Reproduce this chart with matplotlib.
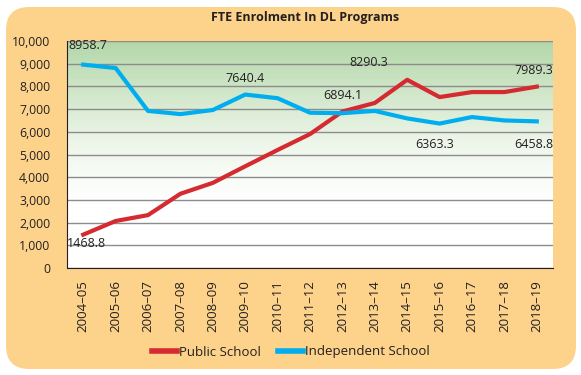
import matplotlib
matplotlib.use('Agg')
import matplotlib.pyplot as plt
import numpy as np
from matplotlib.patches import FancyBboxPatch
from matplotlib.colors import LinearSegmentedColormap

years = ['2004\u201305', '2005\u201306', '2006\u201307', '2007\u201308', '2008\u201309',
         '2009\u201310', '2010\u201311', '2011\u201312', '2012\u201313', '2013\u201314',
         '2014\u201315', '2015\u201316', '2016\u201317', '2017\u201318', '2018\u201319']
public_school = [1468.8, 2070, 2330, 3270, 3750, 4480, 5200, 5900, 6894.1, 7270,
                 8290.3, 7530, 7750, 7750, 7989.3]
independent_school = [8958.7, 8810, 6920, 6780, 6960, 7640.4, 7480, 6840, 6820, 6920,
                      6590, 6363.3, 6650, 6500, 6458.8]
y_ticks = [0, 1000, 2000, 3000, 4000, 5000, 6000, 7000, 8000, 9000, 10000]

RED = '#d42a30'
BLUE = '#00aeef'
BG = '#fdd38c'

plt.rcParams['font.family'] = ['Open Sans', 'DejaVu Sans']
fig = plt.figure(figsize=(5.81, 3.75), dpi=100)
fig.patch.set_facecolor('white')
box = FancyBboxPatch((6 / 581, 6 / 375), 570 / 581, 362 / 375,
                     boxstyle='round,pad=0,rounding_size=0.04',
                     transform=fig.transFigure, facecolor=BG, edgecolor='none',
                     mutation_aspect=581 / 375, zorder=-5)
fig.patches.append(box)

ax = fig.add_axes([67 / 581, 1 - 268 / 375, 486 / 581, 227 / 375])
ax.set_zorder(2)
x = np.arange(len(years))

# green-to-white gradient background
grad = np.linspace(0, 1, 256).reshape(-1, 1)
cmap = LinearSegmentedColormap.from_list('g', [(0, 'white'), (0.3, 'white'),
                                               (0.55, '#eef6ea'), (1, '#b3d7a9')])
ax.imshow(grad, aspect='auto', cmap=cmap, origin='lower',
          extent=[-0.5, 14.5, 0, 10000], zorder=0)

ax.set_xlim(-0.5, 14.5)
ax.set_ylim(0, 10000)
ax.set_yticks(y_ticks)
ax.set_yticklabels([f'{v:,}' for v in y_ticks], fontsize=8.8, color='#231f20')
ax.set_xticks(x)
ax.set_xticklabels(years, rotation=90, fontsize=9.5, color='#231f20')
ax.grid(axis='y', color='#8c8c8c', linewidth=1, zorder=1)
ax.tick_params(axis='x', length=0, pad=9)
ax.tick_params(axis='y', length=0, pad=12)
for s in ['top', 'right']:
    ax.spines[s].set_visible(False)
ax.spines['left'].set_color('#231f20')
ax.spines['bottom'].set_color('#231f20')

ax.plot(x, public_school, color=RED, linewidth=3, zorder=3, label='Public School')
ax.plot(x, independent_school, color=BLUE, linewidth=3, zorder=3, label='Independent School')

lbl = dict(fontsize=9, color='#231f20', zorder=4)
ax.text(-0.47, 9780, '8958.7', ha='left', va='center', **lbl)
ax.text(5, 8370, '7640.4', ha='center', va='center', **lbl)
ax.text(8, 7620, '6894.1', ha='center', va='center', **lbl)
ax.text(8.8, 9070, '8290.3', ha='center', va='center', **lbl)
ax.text(13.9, 8720, '7989.3', ha='center', va='center', **lbl)
ax.text(10.85, 5420, '6363.3', ha='center', va='center', **lbl)
ax.text(13.9, 5420, '6458.8', ha='center', va='center', **lbl)
ax.text(0.1, 1060, '1468.8', ha='center', va='center', **lbl)

fig.text(305 / 581, 1 - 17 / 375, 'FTE Enrolment In DL Programs', ha='center', va='center',
         fontsize=9, fontweight='bold', color='#231f20')

leg = fig.legend(loc='center', bbox_to_anchor=(291 / 581, 1 - 352 / 375), ncol=2,
                 frameon=False, fontsize=9.5, handlelength=1.9, handletextpad=0.15,
                 columnspacing=1.3)
for t in leg.get_texts():
    t.set_color('#231f20')
for line in leg.get_lines():
    line.set_linewidth(4)

fig.savefig('out.png', dpi=100)
